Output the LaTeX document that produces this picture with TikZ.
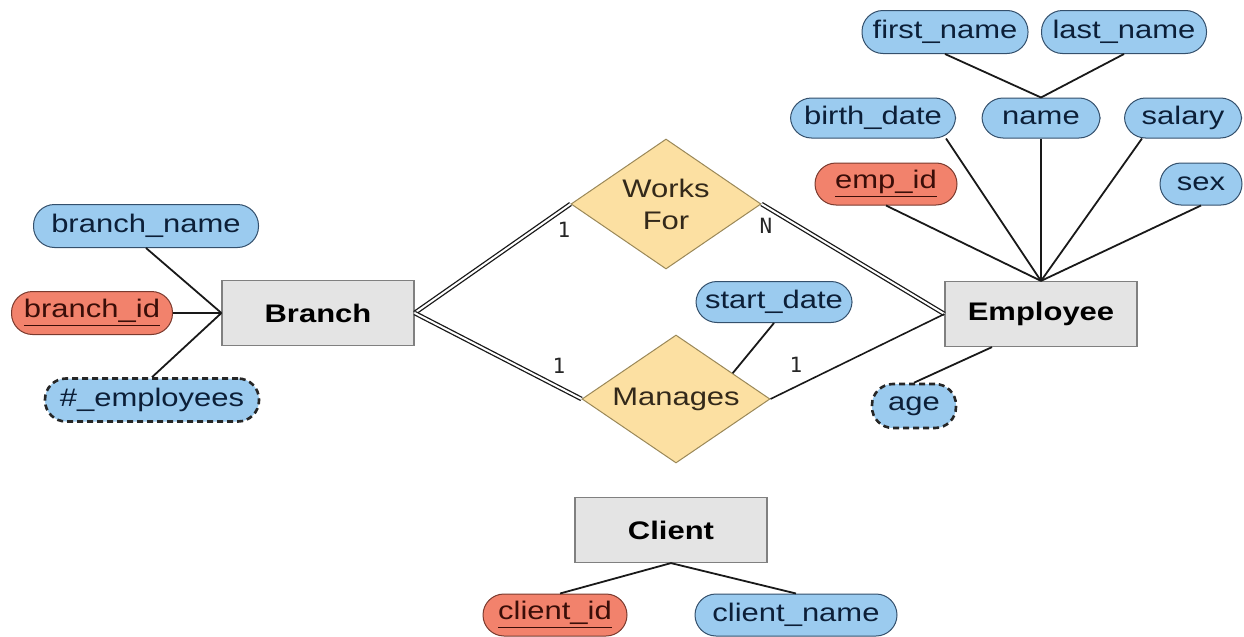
\documentclass[tikz,border=0pt]{standalone}
\usepackage{fontspec}
\setmainfont{Liberation Sans}[FakeStretch=1.22]
\newfontfamily\cardfont{DejaVu Sans Mono}
\usetikzlibrary{shapes.geometric,calc}

\definecolor{attrfill}{HTML}{9BCBEF}
\definecolor{attrline}{HTML}{34506C}
\definecolor{attrtext}{HTML}{0C1F38}
\definecolor{keyfill}{HTML}{F2826C}
\definecolor{keyline}{HTML}{7A3A2E}
\definecolor{keytext}{HTML}{3A0E08}
\definecolor{entfill}{HTML}{E4E4E4}
\definecolor{entline}{HTML}{808080}
\definecolor{relfill}{HTML}{FCE0A2}
\definecolor{relline}{HTML}{9A8858}
\definecolor{reltext}{HTML}{33291A}

\tikzset{
  txt/.style={font=\fontsize{12.7pt}{14pt}\selectfont},
  attr/.style={txt, draw=attrline, fill=attrfill, text=attrtext, line width=0.5pt,
    rectangle, rounded corners=10.5pt, minimum height=21.5pt, inner sep=0pt, minimum width=#1},
  keyattr/.style={attr=#1, draw=keyline, fill=keyfill, text=keytext},
  derived/.style={attr=#1, draw=black!85, line width=1.3pt, dash pattern=on 3pt off 2pt},
  entity/.style={txt, font=\fontsize{12.7pt}{14pt}\selectfont\bfseries, draw=entline, fill=entfill,
    line width=0.6pt, rectangle, minimum width=96pt, minimum height=32.5pt, inner sep=0pt},
  relation/.style={txt, diamond, draw=relline, fill=relfill, text=reltext, line width=0.5pt,
    inner sep=0pt, align=center},
  link/.style={line width=0.9pt, black!90},
  dlink/.style={line width=0.65pt, black!90, double=white, double distance=1pt},
  card/.style={font=\cardfont\fontsize{10.5pt}{12pt}\selectfont, text=black!85, inner sep=0pt}
}

\begin{document}
\begin{tikzpicture}[x=0.5pt, y=-0.5pt]
  \useasboundingbox (0,0) rectangle (1244,637);

  % entities
  \node[entity] (branch) at (318,313) {Branch};
  \node[entity] (emp)    at (1041,314) {Employee};
  \node[entity] (client) at (671,530) {Client};

  % relationships
  \node[relation, aspect=1.5, minimum width=95pt, minimum height=65pt] (works) at (666,204) {Works\\[2pt]For};
  \node[relation, aspect=2.2, minimum width=94pt, minimum height=64pt] (manages) at (676,399) {Manages};

  % branch attributes
  \node[attr=112.5pt] (bname) at (146,226) {branch\_name};
  \node[keyattr=80.5pt] (bid) at (92,313) {\underline{branch\_id}};
  \node[derived=107pt] (bemp) at (152,400) {\#\_employees};

  % employee attributes
  \node[attr=83pt] (fname) at (945,32) {first\_name};
  \node[attr=82.5pt] (lname) at (1124,32) {last\_name};
  \node[attr=59pt, minimum height=20pt] (name) at (1041,118) {name};
  \node[attr=82.5pt, minimum height=20pt] (bdate) at (873,118) {birth\_date};
  \node[attr=58.5pt, minimum height=20pt] (salary) at (1183,118) {salary};
  \node[keyattr=71pt, minimum height=21pt] (eid) at (886,184) {\underline{emp\_id}};
  \node[attr=41pt, minimum height=21pt] (sex) at (1201,184) {sex};
  \node[derived=42pt, minimum height=22pt] (age) at (914,406) {age};

  % relationship attribute
  \node[attr=78pt, minimum height=20.5pt] (sdate) at (774,302) {start\_date};

  % client attributes
  \node[keyattr=72pt, minimum height=21pt] (cid) at (555,615) {\underline{client\_id}};
  \node[attr=101pt, minimum height=21pt] (cname) at (796,615) {client\_name};

  % attribute connectors
  \draw[link] (bname.south) -- (branch.west);
  \draw[link] (bid.east) -- (branch.west);
  \draw[link] (bemp.north) -- (branch.west);

  \draw[link] (fname.south) -- (name.north);
  \draw[link] (lname.south) -- (name.north);
  \draw[link] ([xshift=-5pt]bdate.south east) -- (emp.north);
  \draw[link] (name.south) -- (emp.north);
  \draw[link] ([xshift=9pt]salary.south west) -- (emp.north);
  \draw[link] (eid.south) -- (emp.north);
  \draw[link] (sex.south) -- (emp.north);
  \draw[link] ([xshift=-24.5pt]emp.south) -- (age.north);

  \draw[link] (sdate.south) -- ($(manages.north)!0.6!(manages.east)$);

  \draw[link] (client.south) -- ([xshift=2.5pt]cid.north);
  \draw[link] (client.south) -- (cname.north);

  % relationship connectors
  \draw[dlink] (branch.east) -- (works.west);
  \draw[dlink] (branch.east) -- (manages.west);
  \draw[dlink] (works.east) -- (emp.west);
  \draw[link, line width=0.8pt] (manages.east) -- (emp.west);

  % cardinalities
  \node[card] (c1) at (564,230) {1};
  \node[card] (c2) at (766,226) {N};
  \node[card] (c3) at (559,366) {1};
  \node[card] (c4) at (796,365) {1};
\end{tikzpicture}
\end{document}
